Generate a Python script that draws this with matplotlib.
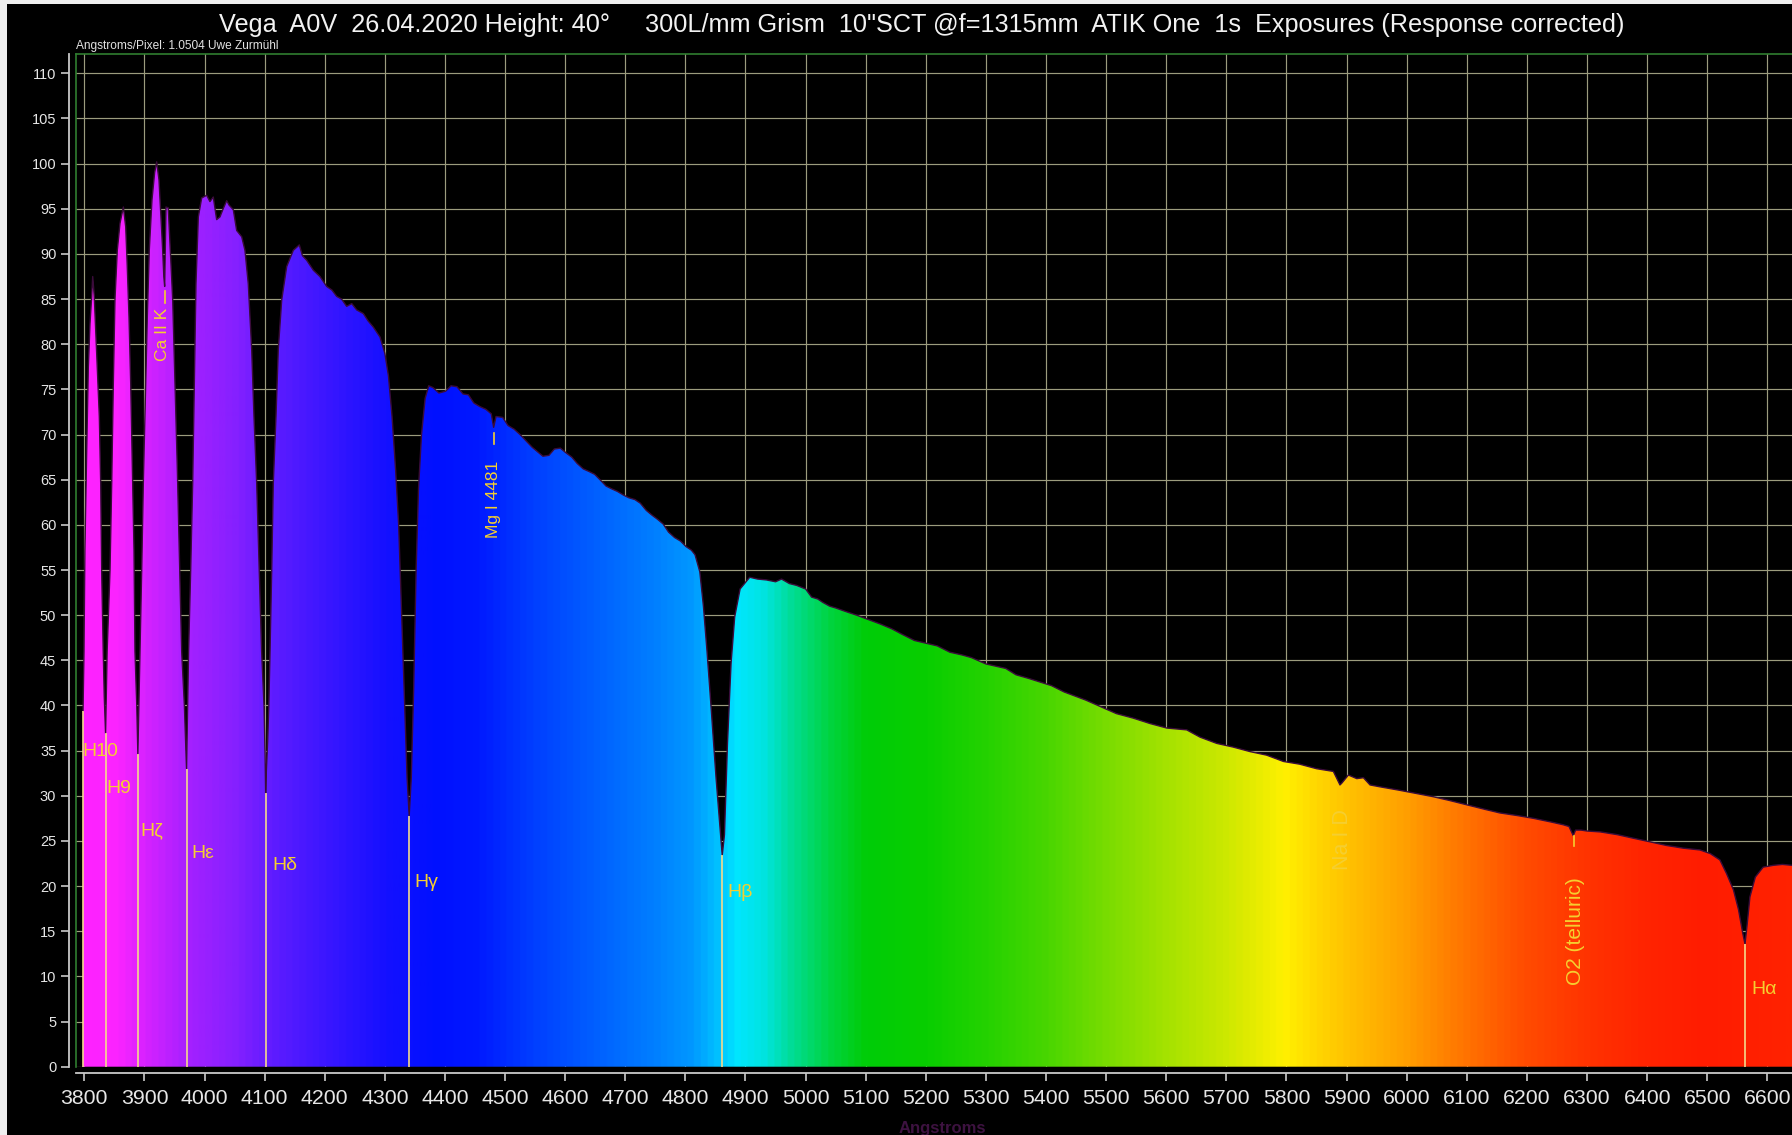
import numpy as np
import matplotlib
matplotlib.use("Agg")
import matplotlib.pyplot as plt
from matplotlib.colors import LinearSegmentedColormap
from matplotlib.patches import Rectangle

plt.rcParams["font.family"] = ["Liberation Sans", "DejaVu Sans"]

# ---------------------------------------------------------------- data
wavelength = [
    3797.9, 3799.5, 3801.0, 3804.0, 3806.7, 3809.5, 3812.3, 3814.0, 3816.6, 3819.5,
    3822.3, 3825.0, 3827.3, 3828.9, 3831.5, 3833.2, 3835.4, 3836.8, 3838.0, 3842.8,
    3845.6, 3848.3, 3851.0, 3854.9, 3859.4, 3865.0, 3868.9, 3871.5, 3874.4, 3877.2,
    3879.9, 3882.7, 3884.3, 3887.3, 3889.1, 3890.8, 3892.6, 3895.5, 3898.2, 3901.5,
    3904.8, 3908.1, 3912.6, 3917.0, 3920.4, 3924.3, 3927.6, 3930.4, 3932.3, 3933.7,
    3934.8, 3935.9, 3939.7, 3942.6, 3947.1, 3950.9, 3954.7, 3958.0, 3962.0, 3966.5,
    3970.1, 3972.0, 3973.5, 3977.0, 3980.3, 3983.0, 3985.8, 3989.7, 3995.3, 4003.6,
    4009.0, 4014.6, 4020.2, 4025.7, 4031.0, 4036.9, 4041.0, 4047.9, 4053.5, 4061.9,
    4067.3, 4072.8, 4078.5, 4082.3, 4086.8, 4091.1, 4095.0, 4099.0, 4100.8, 4101.7,
    4103.0, 4105.0, 4107.0, 4109.0, 4111.8, 4114.4, 4118.9, 4122.7, 4128.4, 4136.7,
    4147.7, 4157.7, 4163.0, 4170.0, 4181.0, 4192.0, 4203.3, 4212.0, 4219.9, 4228.0,
    4236.5, 4245.0, 4253.2, 4264.2, 4272.0, 4280.8, 4291.9, 4300.0, 4306.0, 4312.0,
    4318.0, 4323.0, 4328.0, 4333.0, 4337.0, 4340.5, 4344.0, 4348.0, 4352.0, 4356.0,
    4361.0, 4367.0, 4373.0, 4380.0, 4390.0, 4401.0, 4410.0, 4420.0, 4430.0, 4439.0,
    4448.0, 4458.0, 4468.0, 4477.0, 4481.0, 4485.0, 4496.0, 4505.0, 4515.0, 4525.0,
    4535.0, 4545.0, 4554.0, 4563.0, 4573.0, 4582.0, 4592.0, 4601.0, 4611.0, 4620.0,
    4630.0, 4640.0, 4649.0, 4658.0, 4668.0, 4677.0, 4687.0, 4697.0, 4706.0, 4716.0,
    4725.0, 4735.0, 4744.0, 4754.0, 4763.0, 4772.0, 4782.0, 4792.0, 4801.0, 4810.0,
    4816.0, 4824.0, 4830.0, 4836.0, 4843.0, 4851.0, 4857.0, 4861.3, 4865.0, 4870.0,
    4876.0, 4882.0, 4891.0, 4907.0, 4920.0, 4935.0, 4950.0, 4960.0, 4973.0, 4985.0,
    5000.0, 5010.0, 5020.0, 5029.0, 5040.0, 5050.0, 5067.0, 5085.0, 5105.0, 5125.0,
    5143.0, 5160.0, 5181.0, 5200.0, 5219.0, 5240.0, 5260.0, 5276.0, 5300.0, 5320.0,
    5333.0, 5350.0, 5371.0, 5390.0, 5409.0, 5430.0, 5450.0, 5466.0, 5490.0, 5517.0,
    5545.0, 5573.0, 5601.0, 5634.0, 5656.0, 5684.0, 5711.0, 5739.0, 5767.0, 5795.0,
    5822.0, 5850.0, 5878.0, 5889.0, 5892.0, 5903.0, 5917.0, 5928.0, 5939.0, 5955.0,
    5989.0, 6020.0, 6044.0, 6070.0, 6100.0, 6130.0, 6155.0, 6185.0, 6211.0, 6240.0,
    6260.0, 6270.0, 6277.0, 6281.0, 6290.0, 6300.0, 6322.0, 6350.0, 6377.0, 6405.0,
    6432.0, 6460.0, 6488.0, 6505.0, 6521.0, 6532.0, 6543.5, 6552.0, 6559.0, 6562.8,
    6566.0, 6571.0, 6580.0, 6593.0, 6610.0, 6625.0, 6641.0,
]
flux = [
    39.4, 46.0, 57.2, 68.3, 77.5, 82.3, 85.3, 87.5, 85.3, 80.8,
    76.4, 72.0, 64.6, 55.0, 46.0, 41.0, 36.9, 42.0, 46.0, 55.0,
    64.6, 75.7, 84.9, 90.4, 93.4, 95.2, 93.0, 88.6, 83.0, 75.7,
    66.4, 57.2, 46.0, 40.0, 34.6, 40.0, 46.0, 55.0, 64.6, 73.8,
    83.0, 90.4, 96.0, 99.0, 100.2, 98.2, 94.1, 90.4, 87.5, 86.4,
    91.0, 95.2, 95.1, 91.2, 84.9, 75.7, 66.4, 57.2, 46.0, 40.0,
    33.0, 40.0, 46.0, 55.0, 64.6, 75.7, 86.7, 94.1, 96.2, 96.5,
    95.8, 96.3, 93.8, 94.1, 95.0, 95.9, 95.4, 94.9, 92.6, 91.9,
    90.4, 86.7, 79.4, 72.0, 64.6, 55.0, 46.0, 40.0, 34.5, 30.3,
    33.0, 36.0, 40.0, 46.0, 55.0, 64.6, 72.0, 79.4, 84.9, 88.6,
    90.4, 91.0, 89.8, 89.3, 88.2, 87.5, 86.4, 86.0, 85.3, 85.0,
    84.2, 84.5, 83.8, 83.4, 82.6, 81.9, 80.8, 79.0, 76.5, 72.0,
    66.0, 60.0, 50.0, 40.0, 32.0, 27.8, 32.0, 42.0, 55.0, 64.0,
    70.0, 74.0, 75.4, 75.2, 74.6, 74.8, 75.4, 75.3, 74.5, 74.4,
    73.5, 73.1, 72.8, 72.3, 70.8, 72.0, 71.9, 71.0, 70.6, 70.0,
    69.3, 68.6, 68.1, 67.6, 67.7, 68.4, 68.5, 68.0, 67.5, 66.8,
    66.2, 65.9, 65.6, 65.0, 64.3, 64.0, 63.7, 63.3, 63.0, 62.8,
    62.4, 61.6, 61.1, 60.6, 60.1, 59.2, 58.6, 58.2, 57.6, 57.2,
    56.7, 54.8, 51.0, 46.0, 39.6, 32.0, 27.0, 23.4, 25.7, 35.8,
    44.7, 49.8, 52.9, 54.2, 54.0, 53.9, 53.7, 54.0, 53.5, 53.3,
    52.9, 52.0, 51.8, 51.4, 51.0, 50.8, 50.4, 50.0, 49.5, 49.0,
    48.5, 47.9, 47.2, 46.9, 46.6, 45.9, 45.6, 45.3, 44.6, 44.3,
    44.1, 43.4, 43.0, 42.6, 42.2, 41.5, 41.0, 40.6, 39.9, 39.1,
    38.6, 38.0, 37.5, 37.3, 36.5, 35.8, 35.4, 34.9, 34.5, 33.8,
    33.5, 33.0, 32.7, 31.2, 31.4, 32.3, 31.9, 32.0, 31.2, 31.0,
    30.6, 30.2, 29.9, 29.5, 29.0, 28.5, 28.1, 27.8, 27.5, 27.1,
    26.8, 26.6, 25.6, 26.2, 26.2, 26.1, 26.0, 25.7, 25.3, 24.9,
    24.5, 24.2, 24.0, 23.6, 22.9, 21.4, 19.6, 17.4, 14.8, 13.6,
    15.5, 18.8, 21.0, 22.1, 22.3, 22.4, 22.3,
]

# Balmer lines: rest wavelength, label, depth of the line minimum
balmer_names = ["H10", "H9", "Hζ", "Hε", "Hδ", "Hγ", "Hβ", "Hα"]
balmer_wl = [3797.9, 3835.4, 3889.1, 3970.1, 4101.7, 4340.5, 4861.3, 6562.8]
balmer_depth = [39.4, 36.9, 34.6, 33.0, 30.3, 27.8, 23.4, 13.6]
balmer_label_x = [3797.0, 3837.5, 3893.0, 3978.0, 4112.5, 4349.5, 4870.5, 6573.0]
balmer_label_y = [34.9, 30.8, 26.1, 23.6, 22.3, 20.4, 19.3, 8.6]

# Other identified features (rotated labels)
feature_names = ["Ca II K", "Mg I 4481", "Na I D", "O2 (telluric)"]
feature_wl = [3933.7, 4481.0, 5892.0, 6278.0]
feature_label_x = [3930.0, 4480.0, 5893.0, 6280.0]
feature_label_bottom = [78.2, 58.6, 21.8, 9.1]
feature_mark = [(84.6, 85.9), (68.9, 70.2), None, (24.4, 25.5)]

x_ticks = list(range(3800, 6601, 100))
y_ticks = list(range(0, 111, 5))

title = ('Vega  A0V  26.04.2020 Height: 40°     300L/mm Grism  10"SCT @f=1315mm  '
         'ATIK One  1s  Exposures (Response corrected)')

# ---------------------------------------------------------------- layout
W, H = 1792, 1135
fig = plt.figure(figsize=(W / 100, H / 100), dpi=100, facecolor="#efefef")
fig.patches.append(Rectangle((7 / W, 0), 1, 1 - 4 / H, transform=fig.transFigure,
                             facecolor="black", edgecolor="none", zorder=-1))

left_px, top_px, bottom_px = 75.7, 54.0, 1066.7
ax = fig.add_axes([left_px / W, 1 - bottom_px / H, 1 - left_px / W,
                   (bottom_px - top_px) / H])
ax.set_facecolor("black")

x0, x1 = 3785.7, 6641.0
y0, y1 = 0.0, 112.14

# rainbow colouring by wavelength
stops = [
    (3790, "#ff22ff"), (3850, "#fb24ff"), (3900, "#d422ff"), (3970, "#a420ff"),
    (4050, "#8420ff"), (4110, "#5e1cff"), (4200, "#3a16ff"), (4300, "#1410ff"),
    (4380, "#0010ff"), (4450, "#0018ff"), (4550, "#0040ff"), (4650, "#0060ff"),
    (4750, "#0080ff"), (4810, "#0098ff"), (4850, "#00beff"), (4885, "#00e6ff"),
    (4930, "#00e4e0"), (4980, "#00dc90"), (5040, "#00d440"), (5100, "#00cc08"),
    (5200, "#08ce00"), (5300, "#24d200"), (5400, "#48d600"), (5500, "#78dc00"),
    (5600, "#a4e200"), (5700, "#cce800"), (5800, "#fff000"), (5860, "#ffd400"),
    (5920, "#ffbc00"), (6000, "#ffa000"), (6100, "#ff7400"), (6200, "#ff4c00"),
    (6300, "#ff3400"), (6400, "#ff2400"), (6500, "#ff1c00"), (6641, "#ff2200"),
]
cmap = LinearSegmentedColormap.from_list(
    "spectrum", [((w - stops[0][0]) / (stops[-1][0] - stops[0][0]), c) for w, c in stops])

ax.set_axisbelow(True)
ax.grid(True, color="#9c9c7e", lw=0.85)

wl = np.asarray(wavelength)
fx = np.asarray(flux)
region = ax.fill_between(wl, fx, 0, facecolor="none", edgecolor="none")
grid_wl = np.linspace(stops[0][0], stops[-1][0], 3000)
colours = cmap((grid_wl - stops[0][0]) / (stops[-1][0] - stops[0][0]))[None, :, :]
im = ax.imshow(colours, extent=[stops[0][0], stops[-1][0], 0, y1], aspect="auto",
               origin="lower", interpolation="bilinear", zorder=2)
im.set_clip_path(region.get_paths()[0], transform=ax.transData)
ax.plot(wl, fx, color="#3a0c3a", lw=1.0, zorder=3)

# Balmer line markers and labels
line_col = "#f4d98c"
label_col = "#f5cf30"
ax.vlines(balmer_wl, 0, balmer_depth, color=line_col, lw=1.2, zorder=4)
for name, lx, ly in zip(balmer_names, balmer_label_x, balmer_label_y):
    ax.text(lx, ly, name, color=label_col, fontsize=14, ha="left",
            va="center", zorder=5)

feature_sizes = [12.5, 12.5, 15.5, 15.0]
for name, w, lx, yb, mark, fs in zip(feature_names, feature_wl, feature_label_x,
                                     feature_label_bottom, feature_mark, feature_sizes):
    ax.text(lx, yb, name, color=label_col, fontsize=fs, rotation=90,
            ha="center", va="bottom", zorder=5)
    if mark is not None:
        ax.plot([w, w], mark, color=label_col, lw=1.2, zorder=5)

# green plot frame (top and left)
frame_col = "#2f7d2f"
ax.plot([0, 0], [0, 1], transform=ax.transAxes, color=frame_col, lw=1.2,
        clip_on=False, zorder=6)
ax.plot([0, 1], [1, 1], transform=ax.transAxes, color=frame_col, lw=1.2,
        clip_on=False, zorder=6)

ax.set_xlim(x0, x1)
ax.set_ylim(y0, y1)
ax.set_xticks(x_ticks)
ax.set_yticks(y_ticks)
ax.set_xticklabels([str(t) for t in x_ticks])
ax.set_yticklabels([str(t) for t in y_ticks])

for s in ("top", "right"):
    ax.spines[s].set_visible(False)
spine_col = "#c9c9c9"
ax.spines["left"].set_position(("outward", 5))
ax.spines["bottom"].set_position(("outward", 4.8))
for s in ("left", "bottom"):
    ax.spines[s].set_color(spine_col)
    ax.spines[s].set_linewidth(1.3)

ax.tick_params(axis="x", direction="out", length=6, width=1.2, color=spine_col,
               labelcolor="#e6e6e6", labelsize=15.3, pad=5.5)
ax.tick_params(axis="y", direction="out", length=5.5, width=1.2, color=spine_col,
               labelcolor="#e6e6e6", labelsize=10.5, pad=3.5)

# header texts
fig.text(922 / W, 1 - 32.3 / H, title, ha="center", va="baseline",
         color="#f2f2f2", fontsize=18.2)
fig.text(76 / W, 1 - 49 / H, "Angstroms/Pixel: 1.0504 Uwe Zurmühl", ha="left",
         va="baseline", color="#e2e2e2", fontsize=8.6)
fig.text(942 / W, 1 - 1121 / H, "Angstroms", ha="center", va="top",
         color="#3d1240", fontsize=12, fontweight="bold")

fig.savefig("out.png", dpi=100, facecolor=fig.get_facecolor())
